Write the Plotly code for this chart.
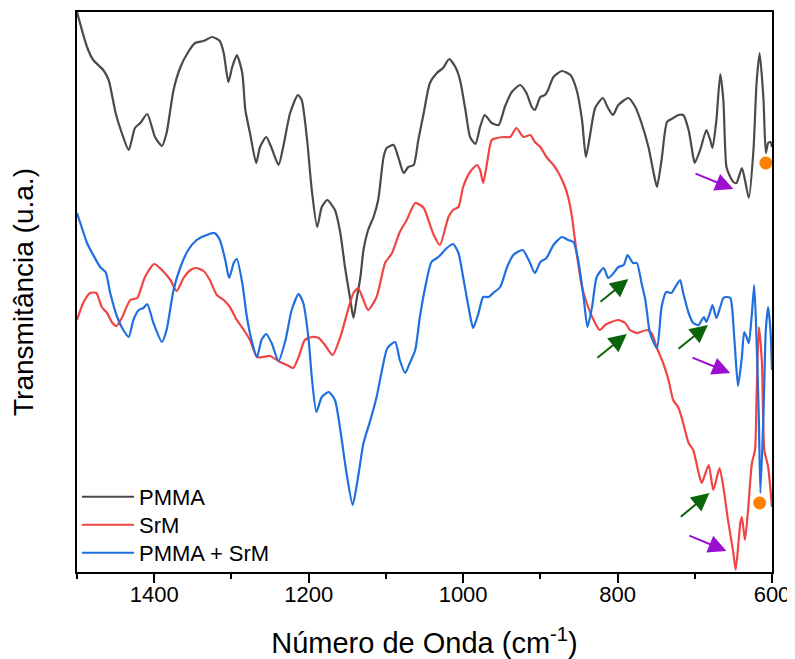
import plotly.graph_objects as go

# Wavenumber (cm^-1) and transmittance (arbitrary units)
pmma_w = [1500, 1487, 1479, 1466, 1459, 1450, 1442, 1433, 1425, 1418, 1409, 1399, 1390, 1384, 1375, 1366,
          1356, 1347, 1336, 1325, 1315, 1310, 1304, 1299, 1293, 1286, 1282, 1276, 1268, 1263, 1255, 1248,
          1239, 1233, 1224, 1214, 1209, 1202, 1196, 1189, 1183, 1176, 1166, 1159, 1153, 1146, 1142, 1138,
          1133, 1129, 1123, 1116, 1110, 1103, 1099, 1090, 1084, 1077, 1071, 1064, 1058, 1051, 1043, 1034,
          1026, 1018, 1010, 1004, 997, 991, 984, 978, 972, 963, 954, 946, 937, 926, 918, 911, 907, 900,
          894, 890, 883, 872, 861, 853, 846, 841, 836, 829, 819, 813, 806, 799, 786, 777, 769, 760, 754,
          749, 743, 736, 730, 721, 715, 708, 702, 700, 693, 685, 680, 677, 672, 667, 663, 659, 654, 650,
          646, 639, 635, 630, 624, 620, 616, 611, 608, 605, 602, 600]
pmma_t = [560, 525, 512, 502, 492, 459, 439, 422, 444, 449, 458, 435, 426, 439, 482, 505,
          520, 529, 531, 535, 531, 519, 490, 505, 517, 499, 462, 439, 409, 425, 435, 424,
          407, 425, 459, 477, 472, 432, 382, 345, 365, 372, 362, 339, 305, 272, 254, 272,
          295, 322, 342, 355, 372, 415, 424, 427, 415, 399, 405, 407, 432, 459, 489, 499,
          504, 513, 505, 492, 462, 435, 428, 445, 457, 449, 447, 465, 480, 487, 479, 465, 462, 475,
          477, 482, 495, 501, 497, 482, 452, 415, 435, 464, 474, 465, 457, 467, 474, 465, 449, 425, 402,
          385, 412, 450, 453, 457, 457, 442, 415, 409, 422, 442, 432, 424, 452, 498, 472, 405, 395, 390,
          389, 404, 392, 374, 422, 489, 519, 472, 419, 429, 430, 425]

srm_w = [1500, 1492, 1483, 1475, 1468, 1461, 1455, 1449, 1442, 1431, 1422, 1412, 1400, 1390, 1379, 1371,
         1362, 1353, 1346, 1336, 1328, 1319, 1310, 1302, 1293, 1284, 1276, 1267, 1259, 1250, 1237, 1228,
         1220, 1213, 1205, 1196, 1187, 1179, 1169, 1159, 1148, 1142, 1136, 1129, 1123, 1112, 1101, 1092,
         1082, 1073, 1062, 1051, 1045, 1038, 1030, 1019, 1013, 1006, 1000, 991, 982, 978, 974, 969, 963,
         956, 948, 939, 931, 922, 913, 907, 900, 892, 883, 877, 868, 864, 859, 853, 846, 840, 831, 823,
         816, 808, 799, 790, 784, 775, 762, 756, 749, 741, 734, 728, 721, 715, 708, 702, 695, 691, 682,
         676, 668, 663, 657, 650, 647, 641, 639, 635, 631, 626, 622, 620, 617, 613, 610, 605, 600]
srm_t = [252, 269, 279, 279, 265, 259, 250, 246, 254, 272, 274, 295, 308, 302, 292, 281,
         294, 302, 304, 301, 292, 277, 272, 265, 252, 242, 232, 215, 215, 216, 210, 207,
         204, 215, 232, 235, 234, 227, 217, 235, 265, 279, 284, 272, 262, 275, 309, 319,
         340, 352, 369, 364, 352, 337, 327, 355, 362, 365, 385, 400, 407, 402, 389, 409, 432,
         434, 435, 435, 444, 435, 437, 430, 425, 415, 407, 400, 385, 375, 355, 319, 285, 269, 252, 242,
         247, 250, 252, 249, 242, 239, 242, 239, 224, 209, 192, 172, 164, 149, 129, 122, 99, 89, 107,
         82, 104, 85, 52, 19, 2, 49, 55, 32, 62, 109, 122, 175, 245, 209, 122, 105, 65]

mix_w = [1500, 1494, 1487, 1479, 1470, 1463, 1457, 1448, 1440, 1433, 1427, 1420, 1414, 1409, 1401, 1390,
         1384, 1375, 1366, 1356, 1345, 1332, 1322, 1315, 1308, 1303, 1297, 1293, 1286, 1280, 1274, 1267,
         1261, 1255, 1248, 1239, 1230, 1222, 1213, 1207, 1200, 1196, 1190, 1183, 1174, 1166, 1159, 1151,
         1143, 1136, 1129, 1120, 1112, 1105, 1098, 1088, 1082, 1075, 1069, 1062, 1056, 1049, 1041, 1032,
         1021, 1013, 1006, 1000, 993, 987, 980, 974, 967, 961, 952, 943, 935, 923, 915, 907, 900, 892,
         883, 872, 864, 857, 851, 844, 839, 833, 827, 818, 812, 805, 799, 792, 787, 780, 775, 769, 764,
         758, 749, 743, 737, 730, 726, 719, 715, 708, 702, 695, 691, 688, 685, 680, 677, 672, 667, 663,
         659, 654, 652, 648, 644, 639, 636, 633, 630, 626, 623, 620, 617, 615, 611, 608, 605, 602, 600]
mix_t = [359, 345, 329, 317, 305, 300, 279, 255, 242, 235, 252, 262, 264, 268, 249, 230,
         242, 282, 305, 322, 332, 337, 339, 332, 312, 294, 309, 313, 289, 255, 232, 215,
         232, 238, 229, 211, 232, 262, 278, 269, 232, 195, 160, 175, 180, 172, 142, 99,
         67, 95, 129, 152, 175, 202, 224, 230, 212, 199, 209, 222, 255, 285, 310, 315,
         324, 328, 319, 295, 265, 244, 259, 275, 275, 279, 285, 305, 317, 322, 312, 299, 310, 314,
         327, 335, 332, 330, 312, 275, 245, 265, 295, 304, 294, 299, 305, 307, 317, 309, 309, 289, 272,
         239, 224, 265, 280, 279, 284, 292, 279, 259, 249, 247, 252, 255, 250, 260, 267, 254, 265, 274,
         275, 274, 267, 225, 186, 215, 240, 235, 229, 259, 287, 232, 152, 79, 159, 242, 265, 242, 202]

# Annotation markers: (tail wavenumber, tail T, head wavenumber, head T)
green_arrows = [(824, 269, 786, 293), (828, 213, 788, 238), (723, 222, 683, 247), (720, 54, 681, 79)]
purple_arrows = [(701, 399, 650, 383), (705, 215, 654, 199), (709, 37, 659, 21)]
dots_w = [608, 616]
dots_t = [409, 69]

FONT = "Liberation Sans, Arial, sans-serif"
fig = go.Figure()
fig.add_trace(go.Scatter(x=pmma_w, y=pmma_t, mode="lines", name="PMMA", legend="legend",
                         line=dict(color="#4a4a4a", width=2.2, shape="spline", smoothing=0.6)))
fig.add_trace(go.Scatter(x=srm_w, y=srm_t, mode="lines", name="SrM", legend="legend2",
                         line=dict(color="#f04545", width=2.2, shape="spline", smoothing=0.6)))
fig.add_trace(go.Scatter(x=mix_w, y=mix_t, mode="lines", name="PMMA + SrM", legend="legend3",
                         line=dict(color="#1f6fe0", width=2.2, shape="spline", smoothing=0.6)))
fig.add_trace(go.Scatter(x=dots_w, y=dots_t, mode="markers", showlegend=False,
                         marker=dict(color="#ff8000", size=13, symbol="circle")))

for (tw, tt, hw, ht) in green_arrows:
    fig.add_annotation(x=hw, y=ht, ax=tw, ay=tt, xref="x", yref="y", axref="x", ayref="y",
                       text="", showarrow=True, arrowhead=2, arrowsize=1.8, arrowwidth=2,
                       arrowcolor="#0a640a")
for (tw, tt, hw, ht) in purple_arrows:
    fig.add_annotation(x=hw, y=ht, ax=tw, ay=tt, xref="x", yref="y", axref="x", ayref="y",
                       text="", showarrow=True, arrowhead=2, arrowsize=1.8, arrowwidth=2,
                       arrowcolor="#9b0fd0")

def leg(ypos):
    return dict(x=0.0, y=ypos, xanchor="left", yanchor="middle", bgcolor="rgba(0,0,0,0)",
                font=dict(size=22, family=FONT), itemwidth=52)

fig.update_layout(
    width=787, height=651,
    margin=dict(l=69, r=23, t=4, b=87, autoexpand=False),
    paper_bgcolor="white", plot_bgcolor="white",
    font=dict(family=FONT, color="black", size=22),
    showlegend=True,
    legend=leg(0.134), legend2=leg(0.084), legend3=leg(0.034),
    xaxis=dict(range=[1500, 600], tickmode="array", tickvals=[1400, 1200, 1000, 800, 600],
               ticktext=["1400", "1200", "1000", "800", "600"],
               ticks="outside", ticklen=9, tickwidth=1.5, tickcolor="black",
               ticklabelstandoff=-7,
               minor=dict(tickvals=[1500, 1300, 1100, 900, 700], ticks="outside", ticklen=5,
                          tickwidth=1.5, tickcolor="black"),
               showline=True, linecolor="black", linewidth=2, mirror=True,
               showgrid=False, zeroline=False, automargin=False,
               tickfont=dict(size=22, family=FONT),
               title=dict(text="Número de Onda (cm<sup>-1</sup>)", font=dict(size=29, family=FONT),
                          standoff=28)),
    yaxis=dict(range=[0, 560], showticklabels=False, ticks="",
               showline=True, linecolor="black", linewidth=2, mirror=True,
               showgrid=False, zeroline=False, automargin=False,
               title=dict(text="Transmitância (u.a.)", font=dict(size=28, family=FONT), standoff=37)),
)

fig.write_html("out.html")
